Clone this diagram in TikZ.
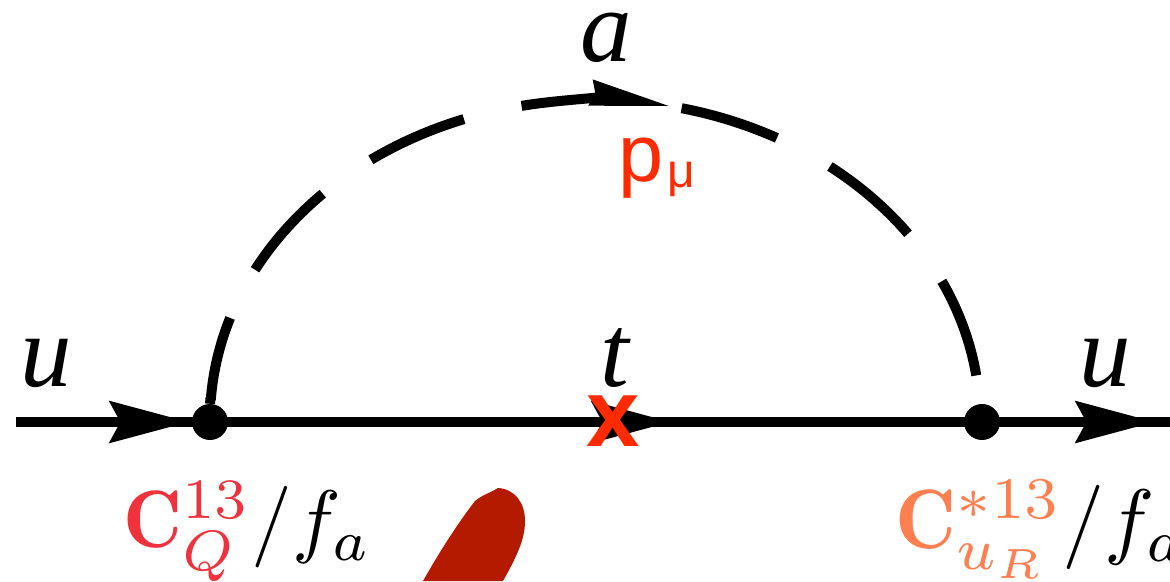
\documentclass[tikz,border=0pt]{standalone}
\usepackage{fontspec}
\usetikzlibrary{arrows.meta}
\newfontfamily\labfont{Liberation Serif}
\newfontfamily\sanslab{Liberation Sans}
\definecolor{redc}{HTML}{F0323C}
\definecolor{orangec}{HTML}{FF7F50}
\definecolor{markred}{HTML}{FF2A00}
\definecolor{blobred}{HTML}{B41A00}
\tikzset{
  fermion/.style={line width=10pt},
  fermarrow/.style={fermion,-{Stealth[length=79pt,width=41pt,inset=10.5pt]}},
  axion/.style={line width=10pt},
  vertexdot/.style={circle,fill=black,minimum size=36pt,inner sep=0pt},
  particle/.style={anchor=base west,inner sep=0pt,font=\labfont\itshape\fontsize{103}{103}\selectfont},
  coupling/.style={anchor=base west,inner sep=0pt,scale=8.15},
}
\newcommand{\axarc}[3][]{\draw[axion,#1] (c) ++(#2:385pt and 320pt) arc[start angle=#2,end angle=#3,x radius=385pt,y radius=320pt];}
\begin{document}
\begin{tikzpicture}[x=1pt,y=1pt]
\useasboundingbox (0,0) rectangle (1170,581);
\clip (0,0) rectangle (1170,581);
\coordinate (c) at (595,161);
\coordinate (in) at (16,159);
\coordinate (tip1) at (189,159);
\coordinate (tip2) at (671,159);
\coordinate (tip3) at (1155,159);
\coordinate (out) at (1170,159);
% blob
\fill[blobred] (423,0) .. controls (440,30) and (458,58) .. (475,80)
  .. controls (482,86) and (490,88) .. (498,93)
  .. controls (515,92) and (525,78) .. (525,60)
  .. controls (525,45) and (520,30) .. (503,0) -- cycle;
% fermion line
\draw[fermion] (in) -- (out);
\draw[fermarrow] (in) -- (tip1);
\draw[fermarrow] (tip1) -- (tip2);
\draw[fermarrow] (tip2) -- (tip3);
\node[vertexdot] (v1) at (210,159) {};
\node[vertexdot] (v2) at (982,159) {};
% axion
\axarc{176.4}{161.4}
\axarc{152}{135}
\axarc{125.6}{109.9}
\axarc[-{Stealth[length=81pt,width=24pt,inset=3pt]}]{101}{78.4}
\axarc{77}{61.8}
\axarc{52.4}{35.6}
\axarc{25.7}{8}
\draw[axion] (v1.north) -- ++(0.5,6);
% labels
\node[particle] (ul) at (20,194) {u};
\node[particle] (ur) at (1079,194) {u};
\node[particle] (tl) at (600,194) {t};
\node[particle] (al) at (580,519) {a};
\node[anchor=base west,inner sep=0pt,text=markred,font=\sanslab\fontsize{81}{81}\selectfont] (pl) at (618,399) {p};
\node[anchor=base west,inner sep=0pt,text=markred,font=\sanslab\fontsize{48}{48}\selectfont] (mul) at (667,393) {μ};
\node[anchor=base,inner sep=0pt,text=markred,font=\sanslab\bfseries\fontsize{96}{96}\selectfont] (xm) at (613,134) {x};
\node[coupling] (cl) at (122,33) {$\color{redc}\mathbf{C}^{13}_{Q}\color{black}/f_a$};
\node[coupling,scale=1.035] (cr) at (894,32) {$\color{orangec}\mathbf{C}^{*13}_{u_R}\color{black}/f_a$};
\end{tikzpicture}
\end{document}
